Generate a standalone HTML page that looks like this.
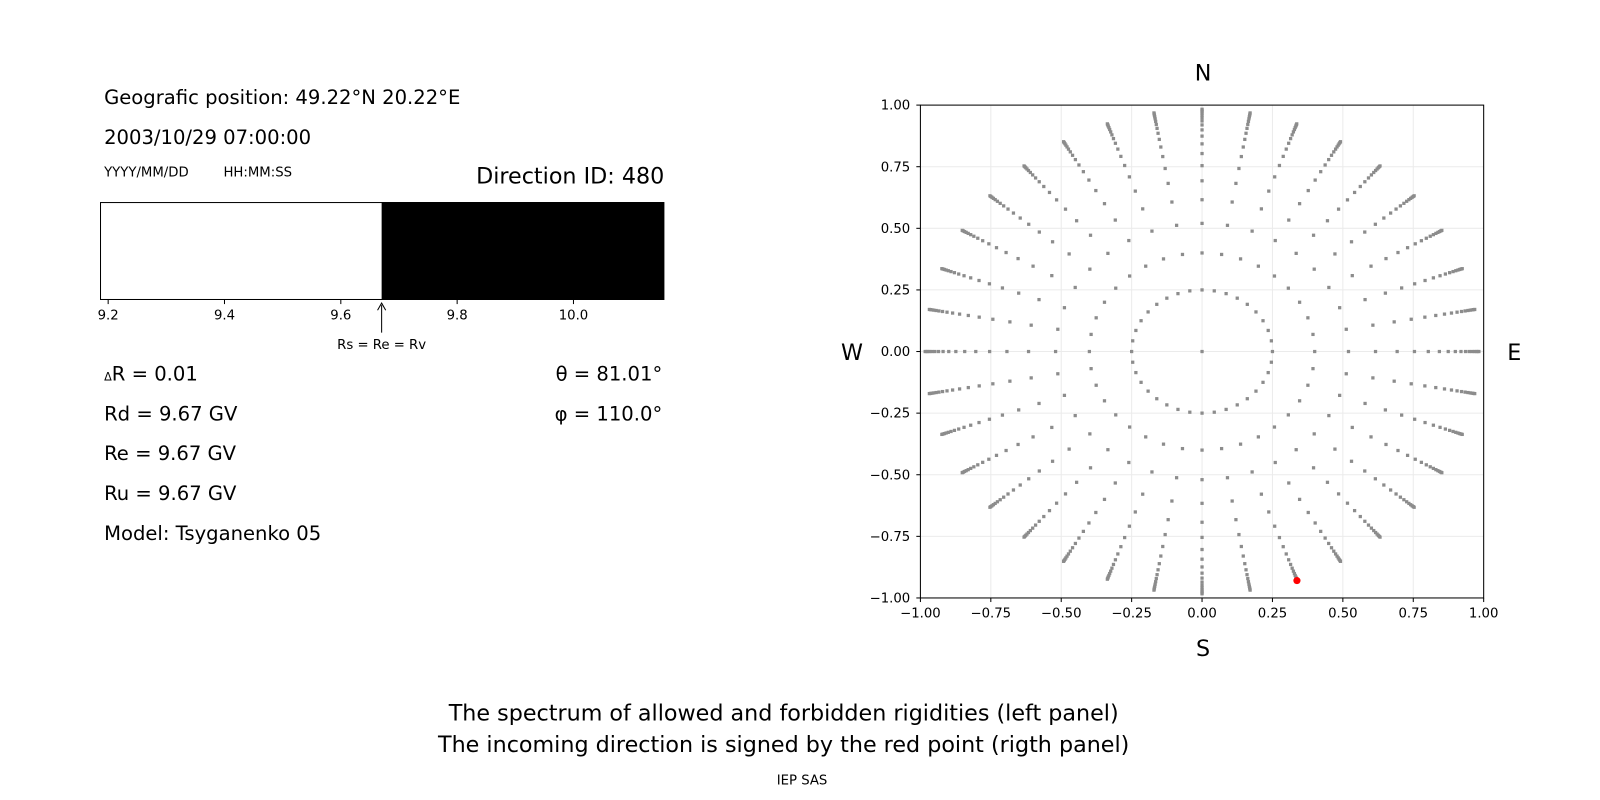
<!DOCTYPE html>
<html><head><meta charset="utf-8"><style>
body{margin:0;background:#fff;}
svg{display:block;font-family:"DejaVu Sans","Liberation Sans",sans-serif;}
</style></head><body>
<svg id="s" width="1600" height="800" viewBox="0 0 1568 784" xmlns="http://www.w3.org/2000/svg">
<rect width="1568" height="784" fill="#fff"/>
<text x="102" y="102" font-size="19.2">Geografic position: 49.22°N 20.22°E</text>
<text x="102" y="141" font-size="19.2">2003/10/29 07:00:00</text>
<text x="102" y="173" font-size="13">YYYY/MM/DD</text>
<text x="219" y="173" font-size="13">HH:MM:SS</text>
<text x="651" y="180" font-size="21.8" text-anchor="end">Direction ID: 480</text>
<rect x="374" y="198" width="277" height="96" fill="#000"/>
<rect x="98.5" y="198.5" width="552" height="95" fill="none" stroke="#000" stroke-width="1"/>
<g font-size="13" text-anchor="middle">
<line x1="106" y1="294" x2="106" y2="298" stroke="#000"/><text x="106" y="313">9.2</text>
<line x1="220" y1="294" x2="220" y2="298" stroke="#000"/><text x="220" y="313">9.4</text>
<line x1="334" y1="294" x2="334" y2="298" stroke="#000"/><text x="334" y="313">9.6</text>
<line x1="448" y1="294" x2="448" y2="298" stroke="#000"/><text x="448" y="313">9.8</text>
<line x1="562" y1="294" x2="562" y2="298" stroke="#000"/><text x="562" y="313">10.0</text>
<text x="374" y="342">Rs = Re = Rv</text>
</g>
<line x1="374" y1="326" x2="374" y2="299" stroke="#000"/>
<path d="M370 304 L374 297 L378 304" fill="none" stroke="#000"/>
<g font-size="19.2">
<text x="102" y="373"><tspan font-size="11">Δ</tspan>R = 0.01</text>
<text x="102" y="412">Rd = 9.67 GV</text>
<text x="102" y="451">Re = 9.67 GV</text>
<text x="102" y="490">Ru = 9.67 GV</text>
<text x="102" y="529">Model: Tsyganenko 05</text>
<text x="649" y="373" text-anchor="end">θ = 81.01°</text>
<text x="649" y="412" text-anchor="end">φ = 110.0°</text>
</g>
<g id="grid" stroke="#ebebeb" stroke-width="1"></g>
<g id="dots" fill="#8c8c8c"></g>
<circle cx="1271" cy="569" r="3.5" fill="#f00"/>
<rect x="902" y="103" width="552" height="483" fill="none" stroke="#000" stroke-width="1"/>
<g id="ticks" font-size="13"></g>
<g font-size="21.8" text-anchor="middle">
<text x="1179" y="79">N</text>
<text x="1179" y="643">S</text>
<text x="835" y="353">W</text>
<text x="1484" y="353">E</text>
<text x="768" y="706">The spectrum of allowed and forbidden rigidities (left panel)</text>
<text x="768" y="737">The incoming direction is signed by the red point (rigth panel)</text>
</g>
<text x="786" y="769" font-size="13" text-anchor="middle">IEP SAS</text>
</svg>
<script>
var NS="http://www.w3.org/2000/svg";
function X(v){return 1178+v*276;}function Y(v){return 344.5-v*241.5;}
function el(p,t,a,txt){var e=document.createElementNS(NS,t);for(var k in a)e.setAttribute(k,a[k]);if(txt)e.textContent=txt;document.getElementById(p).appendChild(e);}
var vals=[-1,-0.75,-0.5,-0.25,0,0.25,0.5,0.75,1];
var lab=["−1.00","−0.75","−0.50","−0.25","0.00","0.25","0.50","0.75","1.00"];
vals.forEach(function(v,i){
 el("grid","line",{x1:X(v),y1:103,x2:X(v),y2:586});
 el("grid","line",{x1:902,y1:Y(v),x2:1454,y2:Y(v)});
 el("ticks","line",{x1:X(v),y1:586,x2:X(v),y2:590,stroke:"#000"});
 el("ticks","line",{x1:898,y1:Y(v),x2:902,y2:Y(v),stroke:"#000"});
 el("ticks","text",{x:X(v),y:605,"text-anchor":"middle"},lab[i]);
 el("ticks","text",{x:892,y:Y(v)+4.5,"text-anchor":"end"},lab[i]);
});
el("dots","rect",{x:X(0)-1.6,y:Y(0)-1.6,width:3.2,height:3.2});
for(var a=0;a<360;a+=10){var t=a*Math.PI/180;
 for(var k=0;k<=17;k++){var r=1-0.75*Math.pow(0.8,k);
  el("dots","rect",{x:X(r*Math.sin(t))-1.6,y:Y(r*Math.cos(t))-1.6,width:3.2,height:3.2});}}
</script>
</body></html>
